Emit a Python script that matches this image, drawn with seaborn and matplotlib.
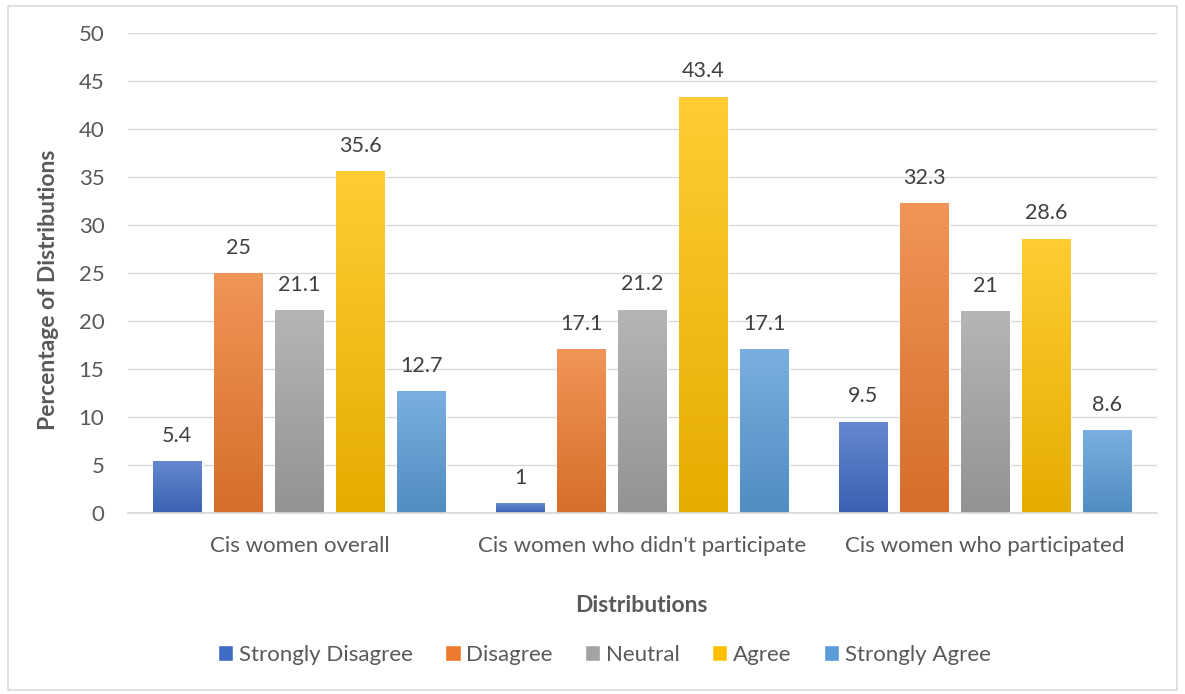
import numpy as np
import pandas as pd
import matplotlib
matplotlib.use("Agg")
import matplotlib.pyplot as plt
import matplotlib.colors as mcolors
from matplotlib.patches import Rectangle
import seaborn as sns

groups = ["Cis women overall", "Cis women who didn't participate", "Cis women who participated"]
responses = ["Strongly Disagree", "Disagree", "Neutral", "Agree", "Strongly Agree"]
strongly_disagree = [5.4, 1, 9.5]
disagree = [25, 17.1, 32.3]
neutral = [21.1, 21.2, 21]
agree = [35.6, 43.4, 28.6]
strongly_agree = [12.7, 17.1, 8.6]
value_labels = [["5.4", "1", "9.5"], ["25", "17.1", "32.3"], ["21.1", "21.2", "21"],
                ["35.6", "43.4", "28.6"], ["12.7", "17.1", "8.6"]]
colors = ["#3F6CC4", "#EE7A2E", "#A3A3A3", "#FFC000", "#5A9BD8"]

series = [strongly_disagree, disagree, neutral, agree, strongly_agree]
df = pd.DataFrame({
    "group": [g for s in series for g in groups],
    "response": [r for r, s in zip(responses, series) for _ in groups],
    "value": [v for s in series for v in s],
})

sns.set_theme(style="white")
plt.rcParams["font.family"] = ["Lato", "DejaVu Sans"]
text_col = "#595959"
fs = 16

fig = plt.figure(figsize=(11.85, 6.94), dpi=100)
ax = fig.add_axes([0.108, 0.261, 0.868, 0.691])

sns.barplot(data=df, x="group", y="value", hue="response", order=groups,
            hue_order=responses, palette=colors, width=0.89, gap=0.2,
            saturation=1, ax=ax, legend=True)

ax.set_xlim(-0.5, 2.5)
ax.set_ylim(0, 50)
ax.set_yticks(np.arange(0, 51, 5))
ax.grid(axis="y", color="#D9D9D9", linewidth=1)
ax.set_axisbelow(True)
for sp in ["top", "right", "left"]:
    ax.spines[sp].set_visible(False)
ax.spines["bottom"].set_color("#D9D9D9")
ax.tick_params(axis="both", length=0, labelsize=fs, colors=text_col)
ax.tick_params(axis="x", pad=17)
ax.tick_params(axis="y", pad=17)

ax.set_ylabel("Percentage of Distributions", fontsize=16.5, fontweight="bold",
              color=text_col)
ax.yaxis.set_label_coords(-0.0768, 0.465)
ax.yaxis.label.set_va("center")
ax.set_xlabel("Distributions", fontsize=16.5, fontweight="bold", color=text_col)
ax.xaxis.set_label_coords(0.499, -0.194)
ax.xaxis.label.set_va("center")

# vertical gradient on each bar, lighter at the top
grad = np.linspace(0, 1, 256).reshape(-1, 1)
for container, col, labels in zip(ax.containers, colors, value_labels):
    base = np.array(mcolors.to_rgb(col))
    light = base + (1 - base) * 0.2
    dark = base * 0.9
    cmap = mcolors.LinearSegmentedColormap.from_list("g", [dark, light])
    for bar in container:
        x0, y0 = bar.get_x(), bar.get_y()
        w, h = bar.get_width(), bar.get_height()
        im = ax.imshow(grad, extent=[x0, x0 + w, y0, y0 + h], origin="lower",
                       aspect="auto", cmap=cmap, zorder=bar.get_zorder() + 0.1)
        im.set_clip_path(bar)
    ax.bar_label(container, labels=labels, padding=11, fontsize=15.5, color="#404040")
ax.set_xlim(-0.5, 2.5)
ax.set_ylim(0, 50)

leg = ax.legend(loc="center", bbox_to_anchor=(0.463, -0.296), ncol=5,
                frameon=False, fontsize=fs, handlelength=0.7, handleheight=0.7,
                handletextpad=0.25, columnspacing=1.45)
for t in leg.get_texts():
    t.set_color(text_col)

fig.patches.append(Rectangle((0.007, 0.006), 0.986, 0.986, transform=fig.transFigure,
                             fill=False, edgecolor="#D9D9D9", linewidth=1.2))

fig.savefig("out.png", dpi=100)
